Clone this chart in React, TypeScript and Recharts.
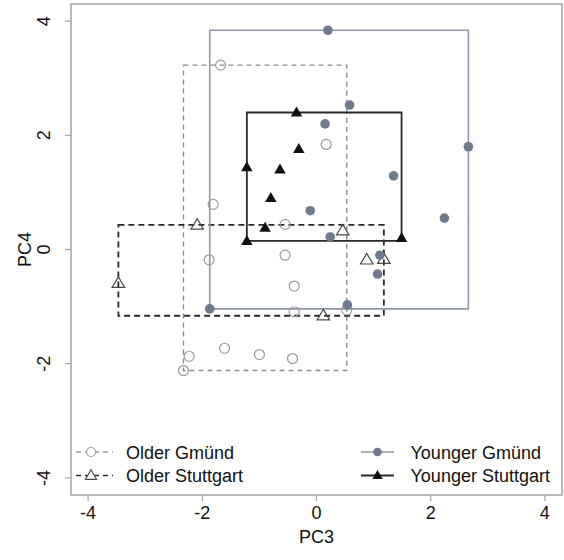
import React from 'react';
import { ScatterChart, Scatter, XAxis, YAxis, ReferenceArea, Legend, Label } from 'recharts';

// ---- data ----
const olderGmundX = [-1.68, 0.17, -1.81, -0.55, -1.88, -0.55, -0.39, -0.39, 0.53, -2.23, -1.61, -1.0, -0.42, -2.33];
const olderGmundY = [3.23, 1.84, 0.79, 0.44, -0.18, -0.1, -0.64, -1.09, -1.06, -1.87, -1.73, -1.84, -1.91, -2.12];

const olderStuttgartX = [-2.09, -3.47, 0.46, 0.88, 1.18, 0.12];
const olderStuttgartY = [0.43, -0.59, 0.33, -0.18, -0.17, -1.16];

const youngerGmundX = [0.2, 0.58, 0.15, 1.35, 2.66, -0.11, 2.24, 0.24, 1.11, 1.07, 0.54, -1.87];
const youngerGmundY = [3.84, 2.53, 2.2, 1.29, 1.8, 0.68, 0.55, 0.22, -0.1, -0.43, -0.97, -1.04];

const youngerStuttgartX = [-0.35, -0.31, -1.22, -0.64, -0.8, -0.9, -1.22, 1.49];
const youngerStuttgartY = [2.4, 1.76, 1.44, 1.4, 0.9, 0.38, 0.15, 0.2];

const seriesNames = ['Older Gmünd', 'Older Stuttgart', 'Younger Gmünd', 'Younger Stuttgart'];
const axisTicks = [-4, -2, 0, 2, 4];
const axisDomain: [number, number] = [-4.3, 4.3];
const xTitle = 'PC3';
const yTitle = 'PC4';

const zip = (xs: number[], ys: number[]) => xs.map((x, i) => ({ x, y: ys[i] }));
const olderGmund = zip(olderGmundX, olderGmundY);
const olderStuttgart = zip(olderStuttgartX, olderStuttgartY);
const youngerGmund = zip(youngerGmundX, youngerGmundY);
const youngerStuttgart = zip(youngerStuttgartX, youngerStuttgartY);

const range = (xs: number[], ys: number[]) => ({
  x1: Math.min(...xs),
  x2: Math.max(...xs),
  y1: Math.min(...ys),
  y2: Math.max(...ys),
});

// ---- styles ----
const FONT = '"Liberation Sans", Arial, Helvetica, sans-serif';
const FRAME = '#a3a3a3';
const OG_COLOR = '#9a9a9a';
const OG_BOX = '#8c8c8c';
const OS_COLOR = '#4a4a4a';
const OS_BOX = '#2a2a2a';
const YG_COLOR = '#6e7b8c';
const YG_BOX = '#8e99a7';
const YS_COLOR = '#111111';
const YS_BOX = '#2a2a2a';

const openCircle = (p: any) => (
  <circle cx={p.cx} cy={p.cy} r={5} fill="none" stroke={OG_COLOR} strokeWidth={1.2} />
);
const filledCircle = (p: any) => <circle cx={p.cx} cy={p.cy} r={4.8} fill={YG_COLOR} />;
const triPath = (cx: number, cy: number, w: number, h: number) =>
  `M${cx},${cy - h * 0.6} L${cx + w / 2},${cy + h * 0.4} L${cx - w / 2},${cy + h * 0.4} Z`;
const openTriangle = (p: any) => (
  <path d={triPath(p.cx, p.cy, 12.5, 10.5)} fill="none" stroke={OS_COLOR} strokeWidth={1.2} />
);
const filledTriangle = (p: any) => <path d={triPath(p.cx, p.cy, 11.5, 10)} fill={YS_COLOR} />;

const XTick = (p: any) => (
  <text x={p.x} y={p.y} dy={15.5} textAnchor="middle" fontSize={18} fontFamily={FONT} fill="#111">
    {p.payload.value}
  </text>
);
const YTick = (p: any) => {
  const tx = p.x - 13;
  return (
    <text
      x={tx}
      y={p.y}
      textAnchor="middle"
      fontSize={18}
      fontFamily={FONT}
      fill="#111"
      transform={`rotate(-90 ${tx} ${p.y})`}
    >
      {p.payload.value}
    </text>
  );
};

const XTitle = (p: any) => {
  const vb = p.viewBox || {};
  return (
    <text x={vb.x + vb.width / 2} y={vb.y + 48} textAnchor="middle" fontSize={18} fontFamily={FONT} fill="#111">
      {xTitle}
    </text>
  );
};
const YTitle = (p: any) => {
  const vb = p.viewBox || {};
  const tx = vb.x + 31;
  const ty = vb.y + vb.height / 2;
  return (
    <text x={tx} y={ty} textAnchor="middle" fontSize={18} fontFamily={FONT} fill="#111" transform={`rotate(-90 ${tx} ${ty})`}>
      {yTitle}
    </text>
  );
};

const LegendContent = () => {
  const r1 = 22;
  const r2 = 45.5;
  return (
    <svg width={564} height={60} style={{ display: 'block' }}>
      {/* Older Gmünd */}
      <line x1={76} x2={113} y1={r1} y2={r1} stroke={OG_COLOR} strokeWidth={1.5} strokeDasharray="5 4" />
      <circle cx={91} cy={r1} r={4.5} fill="#fff" stroke={OG_COLOR} strokeWidth={1.2} />
      <text x={126} y={r1 + 6.5} fontSize={18} fontFamily={FONT} fill="#111">{seriesNames[0]}</text>
      {/* Older Stuttgart */}
      <line x1={76} x2={113} y1={r2} y2={r2} stroke={OS_BOX} strokeWidth={1.5} strokeDasharray="5 4" />
      <path d={triPath(91, r2, 11, 9.5)} fill="#fff" stroke={OS_COLOR} strokeWidth={1.2} />
      <text x={126} y={r2 + 6.5} fontSize={18} fontFamily={FONT} fill="#111">{seriesNames[1]}</text>
      {/* Younger Gmünd */}
      <line x1={361} x2={394} y1={r1} y2={r1} stroke={YG_BOX} strokeWidth={1.5} />
      <circle cx={377.5} cy={r1} r={4.3} fill={YG_COLOR} />
      <text x={410.5} y={r1 + 6.5} fontSize={18} fontFamily={FONT} fill="#111">{seriesNames[2]}</text>
      {/* Younger Stuttgart */}
      <line x1={361} x2={394} y1={r2} y2={r2} stroke={YS_BOX} strokeWidth={1.8} />
      <path d={triPath(377.5, r2, 10.5, 9)} fill={YS_COLOR} />
      <text x={410.5} y={r2 + 6.5} fontSize={18} fontFamily={FONT} fill="#111">{seriesNames[3]}</text>
    </svg>
  );
};

export default function App() {
  const og = range(olderGmundX, olderGmundY);
  const os = range(olderStuttgartX, olderStuttgartY);
  const yg = range(youngerGmundX, youngerGmundY);
  const ys = range(youngerStuttgartX, youngerStuttgartY);
  return (
    <div style={{ position: 'absolute', left: 0, top: 0, width: 564, height: 560, background: '#fff' }}>
      <ScatterChart width={564} height={560} margin={{ top: 4, right: 2, bottom: 0, left: 0 }}>
        <XAxis
          type="number"
          dataKey="x"
          domain={axisDomain}
          ticks={axisTicks}
          allowDataOverflow
          height={65}
          axisLine={false}
          tickLine={{ stroke: FRAME, strokeWidth: 1.2 }}
          tickSize={6}
          tick={XTick}
        >
          <Label content={XTitle} />
        </XAxis>
        <YAxis
          type="number"
          dataKey="y"
          domain={axisDomain}
          ticks={axisTicks}
          allowDataOverflow
          width={71}
          axisLine={false}
          tickLine={{ stroke: FRAME, strokeWidth: 1.2 }}
          tickSize={6}
          tick={YTick}
        >
          <Label content={YTitle} />
        </YAxis>
        <ReferenceArea
          x1={axisDomain[0]}
          x2={axisDomain[1]}
          y1={axisDomain[0]}
          y2={axisDomain[1]}
          fill="none"
          fillOpacity={0}
          stroke={FRAME}
          strokeWidth={1.5}
        />
        <ReferenceArea {...og} fill="none" fillOpacity={0} stroke={OG_BOX} strokeWidth={1.4} strokeDasharray="5 4" />
        <ReferenceArea {...os} fill="none" fillOpacity={0} stroke={OS_BOX} strokeWidth={1.8} strokeDasharray="6 4" />
        <ReferenceArea {...yg} fill="none" fillOpacity={0} stroke={YG_BOX} strokeWidth={1.6} />
        <ReferenceArea {...ys} fill="none" fillOpacity={0} stroke={YS_BOX} strokeWidth={1.8} />
        <Scatter name={seriesNames[0]} data={olderGmund} shape={openCircle} isAnimationActive={false} />
        <Scatter name={seriesNames[1]} data={olderStuttgart} shape={openTriangle} isAnimationActive={false} />
        <Scatter name={seriesNames[2]} data={youngerGmund} shape={filledCircle} isAnimationActive={false} />
        <Scatter name={seriesNames[3]} data={youngerStuttgart} shape={filledTriangle} isAnimationActive={false} />
        <Legend
          layout="horizontal"
          verticalAlign="middle"
          content={LegendContent}
          wrapperStyle={{ left: 0, top: 430, width: 564, height: 60 }}
        />
      </ScatterChart>
    </div>
  );
}
